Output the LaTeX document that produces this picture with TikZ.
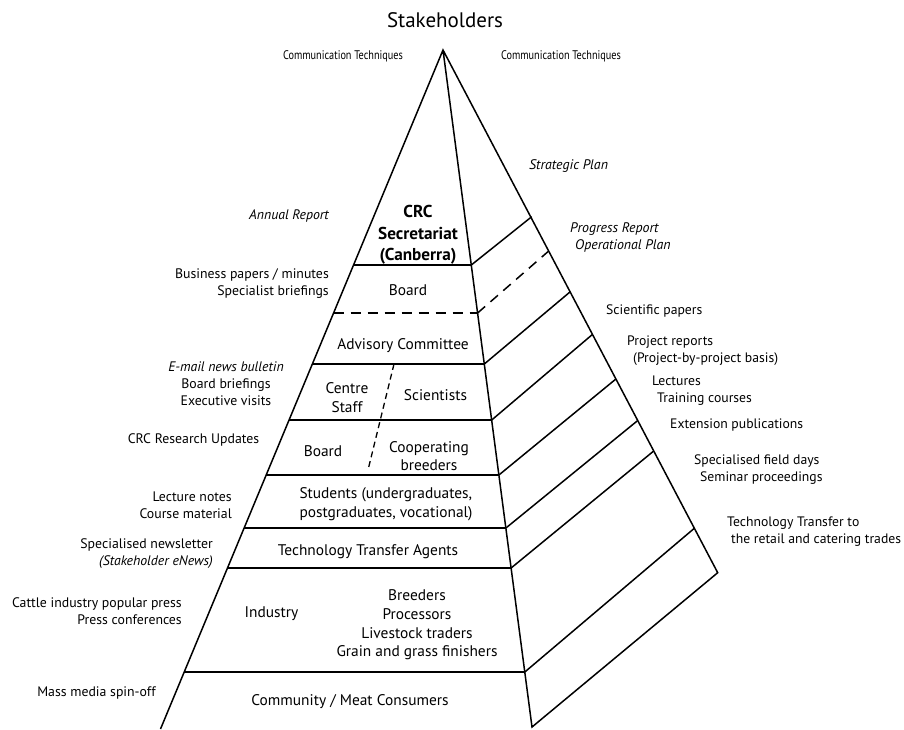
\documentclass[tikz,border=0pt]{standalone}
\usepackage{fontspec}
\setmainfont{PT Sans}
\newfontfamily\condfont[FakeStretch=0.82]{PT Sans}
\usetikzlibrary{calc}

\begin{document}
\begin{tikzpicture}[x=1pt, y=-1pt]

\tikzstyle{edge} = [line width=1.5pt, line join=miter]
\tikzstyle{split} = [line width=1.5pt, dash pattern=on 10pt off 7pt]
\tikzstyle{crack} = [line width=1.3pt, dash pattern=on 6pt off 4pt]
\tikzstyle{tier} = [inner sep=0pt, align=center, font=\fontsize{15.4}{18.7}\selectfont]
\tikzstyle{lside} = [inner sep=0pt, anchor=east, align=right, font=\fontsize{13.8}{17}\selectfont]
\tikzstyle{rside} = [inner sep=0pt, anchor=west, align=left, font=\fontsize{13.7}{17}\selectfont]
\tikzstyle{comm} = [inner sep=0pt, font=\condfont\fontsize{12.5}{15}\selectfont]

\useasboundingbox (0,0) rectangle (904,729);

\node (title) [font=\fontsize{21}{24}\selectfont] at (445,20) {Stakeholders};
\node (commL) [comm] at (343,56) {Communication Techniques};
\node (commR) [comm] at (561,56) {Communication Techniques};

% pyramid outline
\coordinate (apex) at (443,50);
\coordinate (lbot) at (160.5,729);
\coordinate (mbot) at (532,727);
\coordinate (rbot) at (717.7,572.7);
\draw [edge] (lbot) -- (apex) -- (rbot) -- (mbot) -- (apex);

% tiers of the left face
\draw [edge] (353.6,265) -- (471.3,265);
\draw [split] (333.6,313) -- (477.6,313);
\draw [edge] (312.4,364) -- (484.3,364);
\draw [edge] (289.1,420) -- (491.7,420);
\draw [edge] (266.2,475) -- (498.9,475);
\draw [edge] (244.2,528) -- (505.9,528);
\draw [edge] (227.5,568) -- (511.1,568);
\draw [edge] (184.2,672) -- (524.8,672);
\draw [crack] (394,364) -- (368,470);

% bands of the right face
\draw [edge] (471.3,265) -- (531.7,216.7);
\draw [split] (477.6,313) -- (548.7,251);
\draw [edge] (484.3,364) -- (570.3,291.7);
\draw [edge] (491.7,420) -- (592.6,334.3);
\draw [edge] (498.9,475) -- (615.9,379);
\draw [edge] (505.9,528) -- (637.5,420.7);
\draw [edge] (511.1,568) -- (653.7,451);
\draw [edge] (524.8,672) -- (694.3,528.3);

% stakeholder groups
\node (crc) [tier, font=\bfseries\fontsize{17.2}{21.5}\selectfont] at (418,235) {CRC\\Secretariat\\(Canberra)};
\node (board1) [tier] at (408,290) {Board};
\node (advis) [tier] at (403,346) {Advisory Committee};
\node (centre) [tier] at (347,397.5) {Centre\\Staff};
\node (scient) [tier] at (435.5,395) {Scientists};
\node (board2) [tier] at (323,451) {Board};
\node (coop) [tier] at (429,456) {Cooperating\\breeders};
\node (stud) [tier, align=left] at (386,504) {Students (undergraduates,\\postgraduates, vocational)};
\node (tta) [tier] at (368,552) {Technology Transfer Agents};
\node (indus) [tier] at (271.5,614) {Industry};
\node (trade) [tier] at (417,625) {Breeders\\Processors\\Livestock traders\\Grain and grass finishers};
\node (comty) [tier] at (350,702) {Community / Meat Consumers};

% communication techniques, left
\node (annual) [lside, font=\itshape\fontsize{13.8}{17}\selectfont] at (329,216) {Annual Report};
\node (busin) [lside] at (329,283.5) {Business papers / minutes\\Specialist briefings};
\node (email) [lside, anchor=center, align=center] at (226,384) {\textit{E-mail news bulletin}\\Board briefings\\Executive visits};
\node (upd) [lside, anchor=center] at (193.5,440) {CRC Research Updates};
\node (lect) [lside] at (232,505) {Lecture notes\\Course material};
\node (news) [lside] at (213,553.5) {Specialised newsletter\\{\itshape (Stakeholder eNews)}};
\node (press) [lside] at (182,611.5) {Cattle industry popular press\\Press conferences};
\node (mass) [lside, anchor=center] at (96.5,693) {Mass media spin-off};

% communication techniques, right
\node (strat) [rside, font=\itshape\fontsize{13.9}{17}\selectfont] at (529,166) {Strategic Plan};
\node (progr) [rside, font=\itshape\fontsize{13.9}{17}\selectfont] at (570,237.5) {Progress Report\\\hspace*{5pt}Operational Plan};
\node (papers) [rside] at (606,311) {Scientific papers};
\node (proj) [rside] at (627,350.5) {Project reports\\\hspace*{6pt}(Project-by-project basis)};
\node (lectr) [rside] at (652,390.5) {Lectures\\\hspace*{5pt}Training courses};
\node (ext) [rside] at (670,425) {Extension publications};
\node (field) [rside] at (694,469.5) {Specialised field days\\\hspace*{6pt}Seminar proceedings};
\node (retail) [rside] at (727,531.5) {Technology Transfer to\\\hspace*{4pt}the retail and catering trades};

\end{tikzpicture}
\end{document}
